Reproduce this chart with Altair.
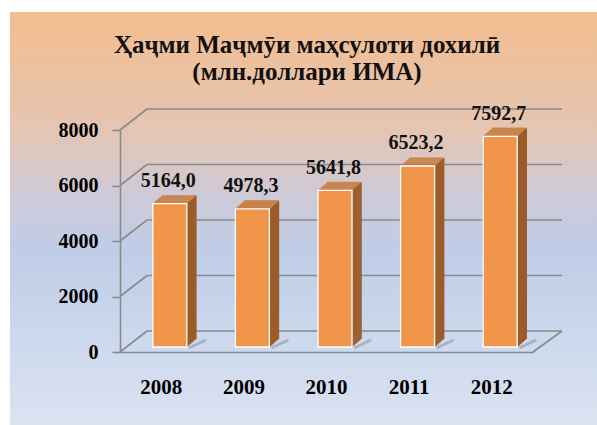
import altair as alt
import pandas as pd

years = ["2008", "2009", "2010", "2011", "2012"]
values = [5164.0, 4978.3, 5641.8, 6523.2, 7592.7]
value_labels = ["5164,0", "4978,3", "5641,8", "6523,2", "7592,7"]
y_ticks = [0, 2000, 4000, 6000, 8000]
title_lines = ["Ҳаҷми Маҷмӯи маҳсулоти дохилӣ", "(млн.доллари ИМА)"]

W, H = 413, 222
DX, DY = 27, -21          # depth of back wall
BX, BY = 8.5, -5          # bar position inside the depth
BW = 34                   # bar front width
BD = 9                    # bar depth
FONT = "Liberation Serif"
TFONT = "'Liberation Serif', 'DejaVu Serif', serif"

df = pd.DataFrame({"year": years, "value": values, "label": value_labels})
ticks = pd.DataFrame({"v": y_ticks})
one = pd.DataFrame({"a": [0]})
titles = pd.DataFrame({"t": title_lines, "i": [0, 1]})

xs = alt.Scale(paddingInner=0, paddingOuter=0)
ys = alt.Scale(domain=[0, 8000], nice=False)

x_axis = alt.Axis(title=None, labelAngle=0, labelFont=FONT, labelFontWeight="bold",
                  labelFontSize=21, labelColor="#000000", labelPadding=24,
                  ticks=False, tickSize=0, domainColor="#8a8a8a", domainWidth=1.6,
                  zindex=1)
y_axis = alt.Axis(title=None, values=y_ticks, format="d", labelFont=FONT,
                  labelFontWeight="bold", labelFontSize=20, labelColor="#000000",
                  labelPadding=14, tickSize=8, tickColor="#8a8a8a", tickWidth=1.6,
                  domainColor="#8a8a8a", domainWidth=1.6, grid=False, zindex=1)


def X():
    return alt.X("year:N", scale=xs, sort=years, axis=x_axis)


def Y(f="value:Q"):
    return alt.Y(f, scale=ys, axis=y_axis)


bg = alt.Chart(one).mark_rect(
    color=alt.Gradient(
        gradient="linear", x1=0, x2=0, y1=0, y2=1,
        stops=[alt.GradientStop(color="#f3bd8f", offset=0),
               alt.GradientStop(color="#e5c5b2", offset=0.28),
               alt.GradientStop(color="#cdcad8", offset=0.45),
               alt.GradientStop(color="#bfcde7", offset=0.58),
               alt.GradientStop(color="#c9d6ec", offset=0.75),
               alt.GradientStop(color="#dbe3f1", offset=1)])
).encode(x=alt.value(-110), x2=alt.value(597 - 120), y=alt.value(-118), y2=alt.value(425 - 130))

back = alt.Chart(ticks).mark_rule(color="#8a8a8a", strokeWidth=1.6, yOffset=DY).encode(
    y=Y("v:Q"), x=alt.value(DX), x2=alt.value(W + 29))

side = alt.Chart(ticks).mark_rule(color="#8a8a8a", strokeWidth=1.6, y2Offset=DY).encode(
    y=Y("v:Q"), y2="v:Q", x=alt.value(0), x2=alt.value(DX))

floor_r = alt.Chart(ticks[ticks.v == 0]).mark_rule(color="#8a8a8a", strokeWidth=1.6, y2Offset=DY).encode(
    y=Y("v:Q"), y2="v:Q", x=alt.value(W), x2=alt.value(W + 29))

# soft slanted shadows at the bar bases
shadow = alt.Chart(df).transform_calculate(zero="0").mark_rule(
    color="#8d929c", opacity=0.55, strokeWidth=3,
    xOffset=BX + BW / 2 + 2, x2Offset=BX + BW / 2 + BD + 10,
    yOffset=-4, y2Offset=-12
).encode(x=X(), x2="year:N", y=alt.Y("zero:Q", scale=ys, axis=y_axis), y2="zero:Q")

layers = [bg, back, side, floor_r, shadow]

# bar side faces (parallelograms built from thin rules)
for k in range(BD + 1):
    layers.append(alt.Chart(df).mark_rule(
        color="#9c5c2a", strokeWidth=1.6,
        xOffset=BX + BW / 2 + k, yOffset=BY - k * 8 / BD, y2Offset=BY - k * 8 / BD
    ).encode(x=X(), y=Y(), y2=alt.datum(0)))

# bar top faces
for k in range(9):
    layers.append(alt.Chart(df).mark_tick(
        color="#c47632", size=BW, thickness=1.6, orient="horizontal",
        xOffset=BX + k * BD / 8, yOffset=BY - k
    ).encode(x=X(), y=Y()))

front = alt.Chart(df).mark_bar(
    color="#f0954a", width=BW, xOffset=BX, yOffset=BY, y2Offset=BY,
    stroke="#ffffff", strokeWidth=1.3
).encode(x=X(), y=Y(), y2=alt.datum(0))
layers.append(front)

text = alt.Chart(df).mark_text(
    font=FONT, fontWeight="bold", fontSize=20, color="#111111", dx=7, dy=-21.5,
    baseline="alphabetic", align="center"
).encode(x=X(), y=Y(), text="label:N")
layers.append(text)

for i, line in enumerate(title_lines):
    layers.append(alt.Chart(titles[titles.i == i]).mark_text(
        font=TFONT, fontWeight="bold", fontSize=25, color="#111111", align="center",
        baseline="alphabetic"
    ).encode(x=alt.value(187), y=alt.value(-77 + 27 * i), text="t:N"))

chart = alt.layer(*layers).properties(
    width=W, height=H, autosize="none",
    padding={"left": 120, "top": 130, "right": 597 - 120 - W, "bottom": 425 - 130 - H},
    background="#ffffff"
).configure_view(stroke=None)

chart.save("out.html", embed_options={"renderer": "svg", "actions": False})
